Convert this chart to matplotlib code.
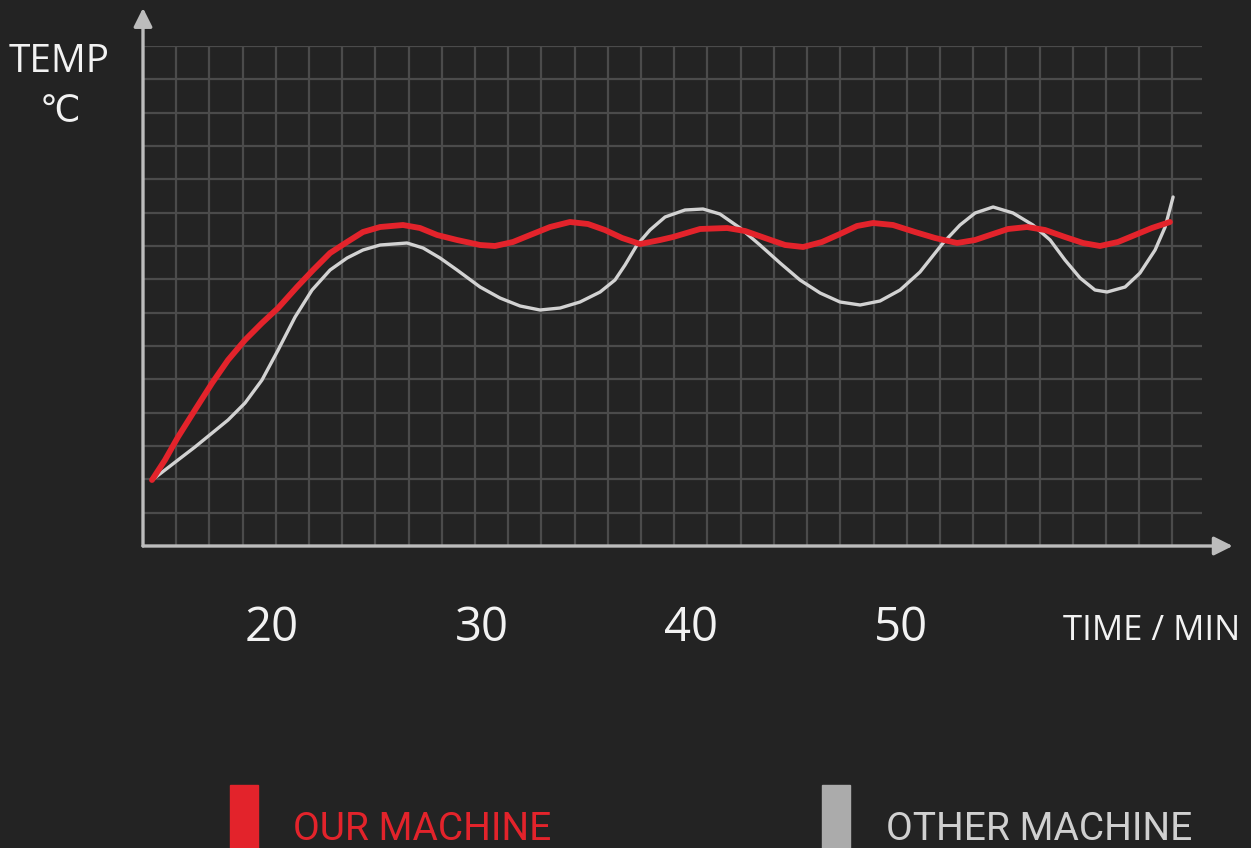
import numpy as np
import matplotlib.pyplot as plt
from matplotlib.patches import Rectangle
from matplotlib.ticker import FixedLocator, MultipleLocator

# time in minutes, temperature in deg C
our_time = [14.27, 14.89, 15.51, 16.32, 17.14, 17.90, 18.71, 19.52, 20.29, 21.19,
            21.96, 22.77, 23.58, 24.34, 25.16, 26.25, 27.06, 27.88, 28.83, 29.93,
            30.64, 31.50, 32.32, 33.27, 34.22, 35.08, 35.89, 36.71, 37.57, 38.52,
            39.14, 40.43, 41.72, 42.58, 43.53, 44.49, 45.35, 46.25, 47.11, 47.92,
            48.69, 49.64, 50.69, 51.65, 52.70, 53.56, 54.27, 55.13, 56.04, 56.90,
            57.85, 58.71, 59.52, 60.38, 61.19, 62.00, 62.86]
our_temp = [19.8, 25.8, 32.7, 40.8, 48.9, 55.8, 61.8, 66.9, 71.4, 77.7,
            82.8, 87.9, 91.2, 94.2, 95.7, 96.3, 95.4, 93.3, 91.8, 90.3,
            90.0, 91.2, 93.3, 95.7, 97.2, 96.6, 94.8, 92.4, 90.6, 91.8,
            92.7, 95.1, 95.4, 94.5, 92.4, 90.3, 89.7, 91.2, 93.6, 96.0,
            96.9, 96.3, 94.2, 92.4, 90.9, 91.8, 93.3, 95.1, 95.7, 94.8,
            92.7, 90.9, 90.0, 91.2, 93.3, 95.4, 97.2]

other_time = [14.27, 14.89, 15.51, 16.32, 17.14, 17.90, 18.71, 19.52, 20.29, 21.10,
              21.91, 22.77, 23.58, 24.34, 25.16, 26.44, 27.21, 28.02, 28.83, 29.93,
              30.88, 31.84, 32.79, 33.75, 34.70, 35.66, 36.37, 36.85, 37.42, 38.04,
              38.76, 39.71, 40.57, 41.38, 42.34, 43.29, 44.25, 45.20, 46.16, 47.11,
              48.07, 49.02, 49.98, 50.93, 52.03, 52.84, 53.56, 54.42, 55.37, 56.32,
              57.14, 57.85, 58.57, 59.28, 59.86, 60.72, 61.43, 62.15, 62.63, 63.01]
other_temp = [19.8, 22.8, 25.8, 29.7, 33.9, 37.8, 42.9, 49.8, 58.8, 68.7,
              76.8, 82.8, 86.4, 88.8, 90.3, 90.9, 89.4, 86.4, 82.8, 77.7,
              74.4, 72.0, 70.8, 71.4, 73.2, 76.2, 79.8, 84.3, 90.3, 94.8,
              98.7, 100.8, 101.1, 99.6, 95.4, 90.3, 84.9, 79.8, 75.9, 73.2,
              72.3, 73.5, 76.8, 82.2, 90.9, 96.3, 99.9, 101.7, 99.9, 96.3,
              91.8, 85.8, 80.4, 76.8, 76.2, 77.7, 81.9, 88.8, 95.7, 104.7]

x_ticks = [20, 30, 40, 50]
x_labels = ['20', '30', '40', '50']
legend_names = ['OUR MACHINE', 'OTHER MACHINE']

bg = '#232323'
W, H = 1251, 848

fig = plt.figure(figsize=(W / 100, H / 100), dpi=100, facecolor=bg)
ax = fig.add_axes([143 / W, 1 - 546 / H, (1202 - 143) / W, 500 / H])
ax.set_facecolor(bg)

x0, x1 = 13.84, 64.39
ax.set_xlim(x0, x1)
ax.set_ylim(0, 150)

# background grid
step = 1.585
ax.xaxis.set_minor_locator(FixedLocator([x0 + k * step for k in range(1, 32)]))
ax.yaxis.set_minor_locator(MultipleLocator(10))
ax.grid(which='minor', color='#4b4b4b', lw=1.6)
ax.set_axisbelow(True)
for s in ax.spines.values():
    s.set_visible(False)

ax.plot(other_time, other_temp, color='#d2d2d2', lw=2.4,
        solid_capstyle='round', solid_joinstyle='round', zorder=3)
ax.plot(our_time, our_temp, color='#e3232b', lw=4.2,
        solid_capstyle='round', solid_joinstyle='round', zorder=4)

# axis arrows
arrow = dict(arrowstyle='-|>', color='#bcbcbc', lw=2.4, mutation_scale=28,
             shrinkA=0, shrinkB=0)
ax.annotate('', xy=(0, 1.076), xytext=(0, 0), xycoords='axes fraction',
            arrowprops=arrow, annotation_clip=False)
ax.annotate('', xy=(1.029, 0), xytext=(0, 0), xycoords='axes fraction',
            arrowprops=arrow, annotation_clip=False)

ax.set_xticks(x_ticks)
ax.set_xticklabels(x_labels, family='Open Sans', fontsize=34, color='#f2f2f2')
ax.set_yticks([])
ax.tick_params(axis='x', which='both', length=0, pad=42)
ax.tick_params(axis='y', which='both', length=0)

fig.text(1240 / W, 1 - 640 / H, 'TIME / MIN', ha='right', va='baseline',
         family='Open Sans', fontsize=25, color='#f2f2f2')
fig.text(59 / W, 1 - 72 / H, 'TEMP', ha='center', va='baseline',
         family='Open Sans', fontsize=28, color='#f2f2f2')
fig.text(60 / W, 1 - 121 / H, '℃', ha='center', va='baseline',
         family=['Open Sans', 'DejaVu Sans'], fontsize=26, color='#f2f2f2')

# legend
fig.patches.append(Rectangle((230 / W, 0), 28 / W, 63 / H, transform=fig.transFigure,
                             color='#e3232b'))
fig.patches.append(Rectangle((822 / W, 0), 28 / W, 63 / H, transform=fig.transFigure,
                             color='#ababab'))
fig.text(293 / W, 1 - 840 / H, legend_names[0], ha='left', va='baseline',
         family='Roboto', fontsize=28, color='#e3232b')
fig.text(886 / W, 1 - 840 / H, legend_names[1], ha='left', va='baseline',
         family='Roboto', fontsize=28, color='#d0d0d0')

fig.savefig('out.png', dpi=100, facecolor=bg)
